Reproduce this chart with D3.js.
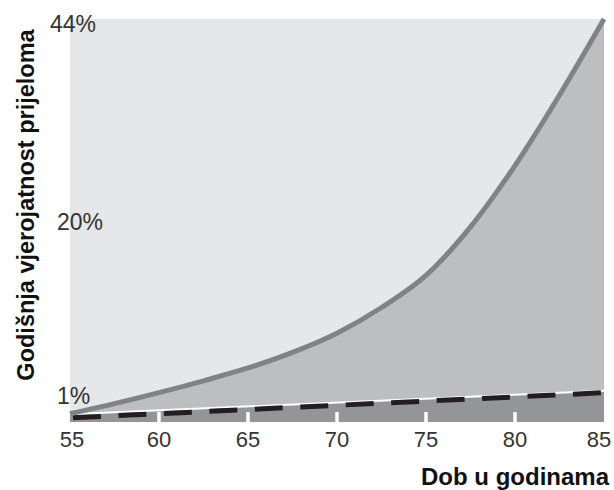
<!DOCTYPE html>
<html>
<head>
<meta charset="utf-8">
<script src="https://cdn.jsdelivr.net/npm/d3@7"></script>
<style>
  body { margin: 0; background: #fff; }
  text { font-family: "Liberation Sans", Arial, Helvetica, sans-serif; }
</style>
</head>
<body>
<script>
const width = 614;
const height = 490;

// ages on the x axis
const ages = [55, 57.5, 60, 62.5, 65, 67.5, 70, 72.5, 75, 77.5, 80, 82.5, 85];
// annual fracture probability (%) - solid grey curve
const riskCurve = [0.9, 2.0, 3.2, 4.5, 5.9, 7.6, 9.7, 12.5, 16.0, 21.3, 28.0, 35.7, 44];
// lower band (white line) and dashed line, straight from 55 to 85
const bandAges = [55, 85];
const bandTop = [0.85, 3.4];
const dashedLine = [0.45, 3.2];

const xTicks = [55, 60, 65, 70, 75, 80, 85];
const innerTicks = [60, 65, 70, 75, 80];
const yLabels = [44, 20, 1];

const margin = {top: 19, right: 10, bottom: 68, left: 70};

const svg = d3.select("body").append("svg")
    .attr("width", width)
    .attr("height", height);

const x = d3.scaleLinear()
    .domain([55, 85])
    .range([margin.left, width - margin.right]);

const y = d3.scaleLinear()
    .domain([0, 44])
    .range([height - margin.bottom, margin.top]);

const curveData = ages.map((a, i) => ({a: a, v: riskCurve[i]}));
const bandData = bandAges.map((a, i) => ({a: a, v: bandTop[i]}));
const dashData = bandAges.map((a, i) => ({a: a, v: dashedLine[i]}));

// background
svg.append("rect")
    .attr("x", x(55))
    .attr("y", y(44))
    .attr("width", x(85) - x(55))
    .attr("height", y(0) - y(44))
    .attr("fill", "#e6e7e8");

// area under the curve
svg.append("path")
    .datum(curveData)
    .attr("fill", "#bcbec0")
    .attr("d", d3.area()
        .x(d => x(d.a))
        .y0(y(0))
        .y1(d => y(d.v))
        .curve(d3.curveMonotoneX));

// dark band at the bottom
svg.append("path")
    .datum(bandData)
    .attr("fill", "#939598")
    .attr("d", d3.area()
        .x(d => x(d.a))
        .y0(y(0))
        .y1(d => y(d.v)));

svg.append("path")
    .datum(bandData)
    .attr("fill", "none")
    .attr("stroke", "#fff")
    .attr("stroke-width", 2)
    .attr("d", d3.line().x(d => x(d.a)).y(d => y(d.v)));

// white tick marks inside the band
svg.selectAll(".tick-mark")
    .data(innerTicks)
    .join("line")
    .attr("class", "tick-mark")
    .attr("x1", d => x(d))
    .attr("x2", d => x(d))
    .attr("y1", y(0))
    .attr("y2", y(0) - 10)
    .attr("stroke", "#fff")
    .attr("stroke-width", 3.5);

// dashed line
svg.append("path")
    .datum(dashData)
    .attr("fill", "none")
    .attr("stroke", "#231f20")
    .attr("stroke-width", 5)
    .attr("stroke-dasharray", "28 17.5")
    .attr("stroke-dashoffset", 42.5)
    .attr("d", d3.line().x(d => x(d.a)).y(d => y(d.v)));

// risk curve
svg.append("path")
    .datum(curveData)
    .attr("fill", "none")
    .attr("stroke", "#808285")
    .attr("stroke-width", 5)
    .attr("d", d3.line()
        .x(d => x(d.a))
        .y(d => y(d.v))
        .curve(d3.curveMonotoneX));

// x tick labels
svg.selectAll(".xlab")
    .data(xTicks)
    .join("text")
    .attr("class", "xlab")
    .attr("x", d => x(d) + (d === 55 ? 2 : d === 85 ? -5 : 0))
    .attr("y", 447)
    .attr("text-anchor", "middle")
    .attr("font-size", 22)
    .attr("fill", "#333")
    .text(d => d);

// y labels
svg.selectAll(".ylab")
    .data(yLabels)
    .join("text")
    .attr("class", "ylab")
    .attr("x", d => d === 44 ? 50 : 57)
    .attr("y", d => d === 44 ? y(d) + 13 : y(d) - 9)
    .attr("font-size", 23)
    .attr("fill", "#333")
    .text(d => d + "%");

// axis titles
svg.append("text")
    .attr("x", 609)
    .attr("y", 485)
    .attr("text-anchor", "end")
    .attr("font-size", 24)
    .attr("font-weight", "bold")
    .attr("fill", "#111")
    .text("Dob u godinama");

svg.append("text")
    .attr("transform", "translate(34,205) rotate(-90)")
    .attr("text-anchor", "middle")
    .attr("font-size", 23.5)
    .attr("font-weight", "bold")
    .attr("fill", "#111")
    .text("Godišnja vjerojatnost prijeloma");
</script>
</body>
</html>
